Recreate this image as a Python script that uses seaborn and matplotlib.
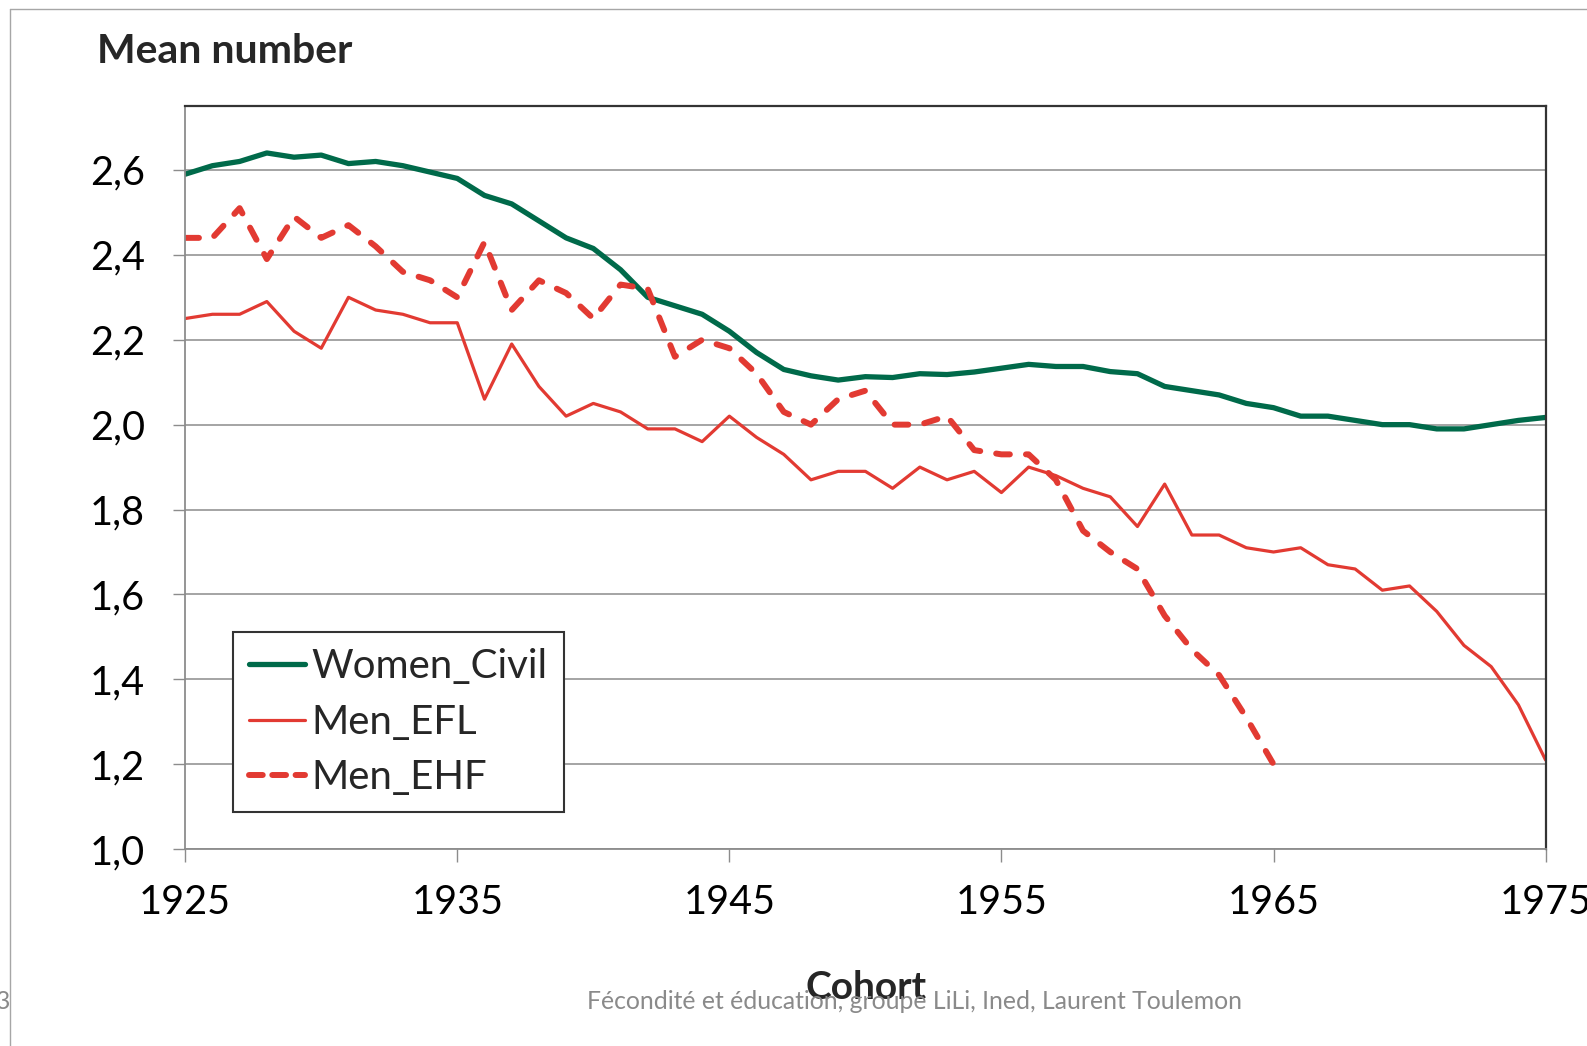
import seaborn as sns
import matplotlib.pyplot as plt
import pandas as pd
import numpy as np
from matplotlib.lines import Line2D

# cohort years and the three series
years = list(range(1925, 1976))
women_civil = [2.59, 2.61, 2.62, 2.64, 2.63, 2.635, 2.615, 2.62, 2.61, 2.595,
               2.58, 2.54, 2.52, 2.48, 2.44, 2.415, 2.365, 2.30, 2.28, 2.26,
               2.22, 2.17, 2.13, 2.115, 2.105, 2.113, 2.111, 2.12, 2.118, 2.124,
               2.133, 2.142, 2.137, 2.137, 2.125, 2.12, 2.09, 2.08, 2.07, 2.05,
               2.04, 2.02, 2.02, 2.01, 2.00, 2.00, 1.99, 1.99, 2.00, 2.01, 2.017]
men_efl = [2.25, 2.26, 2.26, 2.29, 2.22, 2.18, 2.30, 2.27, 2.26, 2.24,
           2.24, 2.06, 2.19, 2.09, 2.02, 2.05, 2.03, 1.99, 1.99, 1.96,
           2.02, 1.97, 1.93, 1.87, 1.89, 1.89, 1.85, 1.90, 1.87, 1.89,
           1.84, 1.90, 1.88, 1.85, 1.83, 1.76, 1.86, 1.74, 1.74, 1.71,
           1.70, 1.71, 1.67, 1.66, 1.61, 1.62, 1.56, 1.48, 1.43, 1.34, 1.21]
ehf_years = list(range(1925, 1966))
men_ehf = [2.44, 2.44, 2.51, 2.39, 2.49, 2.44, 2.47, 2.42, 2.36, 2.34,
           2.30, 2.43, 2.27, 2.34, 2.31, 2.25, 2.33, 2.32, 2.16, 2.20,
           2.18, 2.12, 2.03, 2.00, 2.06, 2.08, 2.00, 2.00, 2.02, 1.94,
           1.93, 1.93, 1.87, 1.75, 1.70, 1.66, 1.55, 1.47, 1.41, 1.31, 1.20]

x_ticks = [1925, 1935, 1945, 1955, 1965, 1975]
y_ticks = [1.0, 1.2, 1.4, 1.6, 1.8, 2.0, 2.2, 2.4, 2.6]
y_tick_labels = ['1,0', '1,2', '1,4', '1,6', '1,8', '2,0', '2,2', '2,4', '2,6']

GREEN = '#006a4a'
RED = '#e23a32'

sns.set_theme(style='white')
plt.rcParams['font.family'] = ['Lato', 'DejaVu Sans']

df_w = pd.DataFrame({'year': years, 'value': women_civil})
df_l = pd.DataFrame({'year': years, 'value': men_efl})
df_h = pd.DataFrame({'year': ehf_years, 'value': men_ehf})

fig = plt.figure(figsize=(15.87, 10.46), dpi=100)
ax = fig.add_axes([0.1167, 0.1882, 0.8572, 0.7102])

sns.lineplot(data=df_w, x='year', y='value', ax=ax, color=GREEN, linewidth=3.8)
sns.lineplot(data=df_l, x='year', y='value', ax=ax, color=RED, linewidth=2.3)
sns.lineplot(data=df_h, x='year', y='value', ax=ax, color=RED, linewidth=4.3,
             dashes=False)
ax.lines[-1].set_dashes((2.3, 2.7))
ax.lines[-1].set_dash_capstyle('round')

ax.set_xlim(1925, 1975)
ax.set_ylim(1.0, 2.75)
ax.set_xticks(x_ticks)
ax.set_xticklabels([str(t) for t in x_ticks])
ax.set_yticks(y_ticks)
ax.set_yticklabels(y_tick_labels)
ax.yaxis.grid(True, color='#8c8c8c', linewidth=1.1)
ax.xaxis.grid(False)
ax.tick_params(axis='both', which='major', length=9, width=1, color='#8c8c8c',
               labelsize=28.5, labelcolor='black', direction='out')
ax.tick_params(axis='y', pad=20, left=True)
ax.tick_params(axis='x', pad=16, bottom=True)
ax.set_xlabel('')
ax.set_ylabel('')
for side in ['left', 'bottom']:
    ax.spines[side].set_color('#8c8c8c')
    ax.spines[side].set_linewidth(1.3)
for side in ['top', 'right']:
    ax.spines[side].set_color('#333333')
    ax.spines[side].set_linewidth(1.6)

handles = [Line2D([], [], color=GREEN, linewidth=3.8, solid_capstyle='round'),
           Line2D([], [], color=RED, linewidth=2.3, solid_capstyle='round'),
           Line2D([], [], color=RED, linewidth=4.3, dashes=(2.3, 1.6),
                  dash_capstyle='round')]
leg = fig.legend(handles, ['Women_Civil', 'Men_EFL', 'Men_EHF'],
                 loc='upper left', bbox_to_anchor=(0.1468, 0.3958),
                 fontsize=29, frameon=True, fancybox=False, edgecolor='#333333',
                 framealpha=1, borderpad=0.4, handlelength=1.4,
                 handletextpad=0.15, labelspacing=0.46, borderaxespad=0)
leg.get_frame().set_linewidth(1.5)

fig.text(97 / 1587, 1 - 63 / 1046, 'Mean number', fontsize=29.5,
         fontweight='bold', ha='left', va='baseline')
fig.text(866 / 1587, 1 - 999 / 1046, 'Cohort', fontsize=28,
         fontweight='bold', ha='center', va='baseline')
fig.text(915 / 1587, 1 - 1009 / 1046,
         'Fécondité et éducation, groupe LiLi, Ined, Laurent Toulemon',
         fontsize=17.8, color='#8a8a8a', ha='center', va='baseline')
fig.text(3 / 1587, 1 - 1009 / 1046, '3', fontsize=17.8, color='#8a8a8a',
         ha='center', va='baseline')

# slide frame lines on the top and left edge
fig.add_artist(Line2D([10 / 1587, 10 / 1587], [0, 1 - 9 / 1046],
                      transform=fig.transFigure, color='#a6a6a6', linewidth=1))
fig.add_artist(Line2D([10 / 1587, 1], [1 - 9 / 1046, 1 - 9 / 1046],
                      transform=fig.transFigure, color='#a6a6a6', linewidth=1))

fig.savefig('out.png', dpi=100, facecolor='white')
